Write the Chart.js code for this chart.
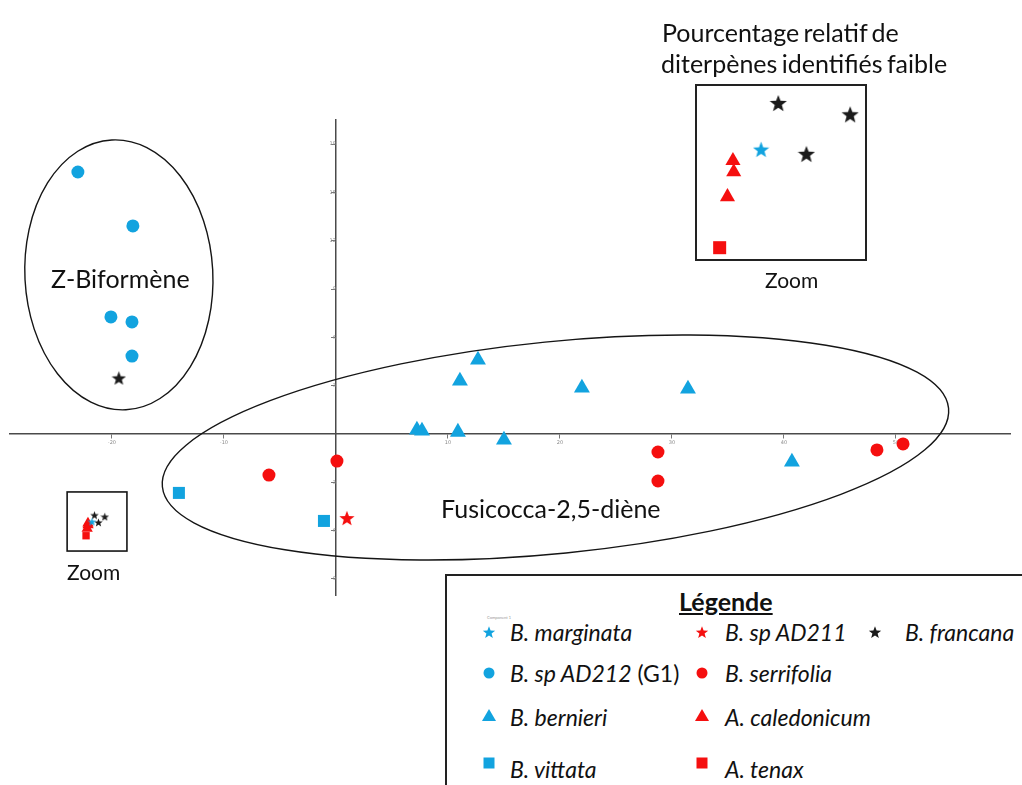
<!DOCTYPE html>
<html>
<head>
<meta charset="utf-8">
<script src="https://cdn.jsdelivr.net/npm/chart.js@4.4.1/dist/chart.umd.min.js"></script>
<style>
body { margin: 0; background: #fff; font-family: Lato, 'Open Sans', sans-serif; }
#wrap { position: relative; width: 1022px; height: 785px; overflow: hidden; }
#main { position: absolute; left: 0; top: 0; }
.lbl { position: absolute; color: #111; white-space: nowrap; line-height: 1; transform: translateY(-50%); }
#insetBox { position: absolute; left: 695px; top: 84px; width: 168px; height: 173px; border: 2px solid #222; background: #fff; }
#inset { position: absolute; left: 0; top: 0; }
#legend { position: absolute; left: 445px; top: 574px; width: 620px; height: 260px; border: 2px solid #222; background: #fff; }
#legend .title { position: absolute; left: 232px; top: 10px; font-weight: bold; font-size: 25px; text-decoration: underline; color: #111; }
#legend .item { position: absolute; font-size: 23px; font-style: italic; color: #111; white-space: nowrap; transform: translateY(-50%); }
#legend .item span { font-style: normal; }
#legend canvas { position: absolute; }
</style>
</head>
<body>
<div id="wrap">
  <canvas id="main" width="1022" height="785"></canvas>

  <div class="lbl" style="left:662px; top:32px; font-size:25px; word-spacing:-2px;">Pourcentage relatif de</div>
  <div class="lbl" style="left:661px; top:63px; font-size:25px; word-spacing:-2px;">diterpènes identifiés faible</div>
  <div id="insetBox"><canvas id="inset" width="168" height="173"></canvas></div>
  <div class="lbl" style="left:765px; top:279px; font-size:21px;">Zoom</div>
  <div class="lbl" style="left:51px; top:278px; font-size:25px;">Z-Biformène</div>
  <div class="lbl" style="left:441px; top:508px; font-size:25px;">Fusicocca-2,5-diène</div>
  <div class="lbl" style="left:67px; top:571px; font-size:21px;">Zoom</div>

  <div id="legend">
    <div class="title">Légende</div>
    <div style="position:absolute; left:40px; top:39px; font-size:4px; color:#999;">Component 1</div>
  </div>
</div>

<script>
// --- data (Component 1 / Component 2 scores) ---
const species = ['B. marginata', 'B. sp AD212 (G1)', 'B. bernieri', 'B. vittata',
                 'B. sp AD211', 'B. serrifolia', 'A. caledonicum', 'A. tenax', 'B. francana'];

const marginataX = [-21.78];
const marginataY = [-5.45];
const ad212X = [-23.04, -18.13, -20.09, -18.21, -18.21];
const ad212Y = [16.27, 12.92, 7.27, 6.96, 4.84];
const bernieriX = [12.68, 11.07, 7.23, 7.68, 10.89, 15.0, 21.96, 31.43, 40.71];
const bernieriY = [4.60, 3.29, 0.25, 0.19, 0.12, -0.37, 2.86, 2.80, -1.74];
const vittataX = [-14.02, -1.07];
const vittataY = [-3.66, -5.40];
const ad211X = [0.98];
const ad211Y = [-5.22];
const serrifoliaX = [-5.98, 0.09, 28.75, 28.75, 48.3, 50.63];
const serrifoliaY = [-2.55, -1.68, -1.12, -2.92, -0.99, -0.62];
const caledonicumX = [-22.14, -22.13, -22.21];
const caledonicumY = [-5.55, -5.65, -5.87];
const tenaxX = [-22.31];
const tenaxY = [-6.32];
const francanaX = [-19.38, -21.56, -20.64, -21.20];
const francanaY = [3.48, -5.04, -5.14, -5.49];

const xTickValues = [-20, -10, 10, 20, 30, 40, 50];
const yTickValues = [-9, -6, -3, 3, 6, 9, 12, 15, 18];

const BLUE = '#12A3DF';
const RED = '#F50F0F';
const BLACK = '#1b1b1b';

// annotation shapes (data units)
const ellipses = [
    { x: -19.38, y: 9.88, a: 8.39, b: 8.39, rot: -3 },
    { x: 19.6, y: -0.84, a: 35.27, b: 6.58, rot: -5.7 }
];
const zoomBox = { x1: -24.0, x2: -18.66, y1: -3.6, y2: -7.27 };
const insetRange = { xmin: -22.6, xmax: -20.45, ymin: -6.42, ymax: -4.89 };

const inZoomBox = p => p.x < -20 && p.y < -4;
const toPoints = (xs, ys) => xs.map((v, i) => ({ x: v, y: ys[i] }));

function drawShape(ctx, shape, color, cx, cy, size) {
    ctx.fillStyle = color;
    ctx.beginPath();
    if (shape === 'circle') {
        ctx.arc(cx, cy, size / 2, 0, Math.PI * 2);
    } else if (shape === 'rect') {
        ctx.rect(cx - size / 2, cy - size / 2, size, size);
    } else if (shape === 'triangle') {
        const r = size / Math.sqrt(3);
        ctx.moveTo(cx, cy - r);
        ctx.lineTo(cx + size / 2, cy + r / 2);
        ctx.lineTo(cx - size / 2, cy + r / 2);
        ctx.closePath();
    } else if (shape === 'star') {
        const R = size / 2, r = R * 0.42;
        for (let i = 0; i < 10; i++) {
            const rad = i % 2 ? r : R;
            const a = -Math.PI / 2 + i * Math.PI / 5;
            const px = cx + rad * Math.cos(a), py = cy + rad * Math.sin(a) + R * 0.1;
            if (i === 0) ctx.moveTo(px, py); else ctx.lineTo(px, py);
        }
        ctx.closePath();
    }
    ctx.fill();
}

function starCanvas(color, size) {
    const c = document.createElement('canvas');
    c.width = size; c.height = size;
    drawShape(c.getContext('2d'), 'star', color, size / 2, size / 2, size);
    return c;
}

// shape, colour, size on main chart, size inside the zoom cluster, size in inset
const looks = [
    { shape: 'star', color: BLUE, big: 15, small: 9, inset: 17 },
    { shape: 'circle', color: BLUE, big: 6.5 },
    { shape: 'triangle', color: BLUE, big: 9.2 },
    { shape: 'rect', color: BLUE, big: 8.5 },
    { shape: 'star', color: RED, big: 16, small: 9, inset: 17 },
    { shape: 'circle', color: RED, big: 6.5 },
    { shape: 'triangle', color: RED, big: 9.2, small: 6.5, inset: 8.7 },
    { shape: 'rect', color: RED, big: 8.5, small: 5.2, inset: 9.2 },
    { shape: 'star', color: BLACK, big: 15, small: 9, inset: 18 }
];
const seriesX = [marginataX, ad212X, bernieriX, vittataX, ad211X, serrifoliaX, caledonicumX, tenaxX, francanaX];
const seriesY = [marginataY, ad212Y, bernieriY, vittataY, ad211Y, serrifoliaY, caledonicumY, tenaxY, francanaY];

const mainSets = species.map((name, i) => {
    const lk = looks[i];
    let style = lk.shape;
    if (lk.shape === 'star') {
        const bigStar = starCanvas(lk.color, lk.big), smallStar = starCanvas(lk.color, lk.small);
        style = ctx => inZoomBox(ctx.raw || { x: 0, y: 0 }) ? smallStar : bigStar;
    }
    return {
        label: name,
        data: toPoints(seriesX[i], seriesY[i]),
        pointStyle: style,
        pointRadius: ctx => (ctx.raw && inZoomBox(ctx.raw) && lk.small) ? lk.small : lk.big,
        pointBackgroundColor: lk.color,
        pointBorderColor: lk.color,
        pointBorderWidth: 0,
        order: lk.shape === 'star' ? 0 : 1
    };
});

const annotate = {
    id: 'annotate',
    beforeDatasetsDraw(chart) {
        const { ctx, scales: { x, y } } = chart;
        ctx.save();
        ctx.strokeStyle = '#151515';
        ctx.lineWidth = 1.4;
        for (const e of ellipses) {
            const cx = x.getPixelForValue(e.x), cy = y.getPixelForValue(e.y);
            const rx = x.getPixelForValue(e.x + e.a) - cx;
            const ry = cy - y.getPixelForValue(e.y + e.b);
            ctx.beginPath();
            ctx.ellipse(cx, cy, rx, ry, e.rot * Math.PI / 180, 0, Math.PI * 2);
            ctx.stroke();
        }
        const bx = x.getPixelForValue(zoomBox.x1), by = y.getPixelForValue(zoomBox.y1);
        ctx.lineWidth = 1.6;
        ctx.strokeRect(bx, by, x.getPixelForValue(zoomBox.x2) - bx, y.getPixelForValue(zoomBox.y2) - by);
        ctx.restore();
    }
};

const axisCommon = {
    type: 'linear',
    grid: { drawOnChartArea: false, drawTicks: true, tickLength: 4, color: '#777', lineWidth: 1 },
    border: { color: '#4a4a4a', width: 1.5 },
    ticks: { font: { size: 5, family: 'DejaVu Sans' }, color: '#8a8a8a', padding: 2, maxRotation: 0, autoSkip: false }
};

new Chart(document.getElementById('main'), {
    type: 'scatter',
    data: { datasets: mainSets },
    options: {
        responsive: false,
        animation: false,
        events: [],
        layout: { autoPadding: false, padding: { left: 10, right: 12, top: 120, bottom: 190 } },
        plugins: { legend: { display: false }, tooltip: { enabled: false } },
        scales: {
            x: Object.assign({}, axisCommon, {
                position: { y: 0 }, min: -29.1, max: 60.18,
                afterBuildTicks: s => { s.ticks = xTickValues.map(v => ({ value: v })); }
            }),
            y: Object.assign({}, axisCommon, {
                position: { x: 0 }, min: -10.0, max: 19.5,
                afterBuildTicks: s => { s.ticks = yTickValues.map(v => ({ value: v })); }
            })
        }
    },
    plugins: [annotate]
});

// enlarged view of the cluster in the small box
const insetSets = species.map((name, i) => {
    const lk = looks[i];
    const pts = toPoints(seriesX[i], seriesY[i]).filter(inZoomBox);
    return {
        label: name,
        data: pts,
        pointStyle: lk.shape === 'star' ? starCanvas(lk.color, lk.inset) : lk.shape,
        pointRadius: lk.inset || 0,
        pointBackgroundColor: lk.color,
        pointBorderColor: lk.color,
        pointBorderWidth: 0
    };
}).filter(d => d.data.length);

new Chart(document.getElementById('inset'), {
    type: 'scatter',
    data: { datasets: insetSets },
    options: {
        responsive: false,
        animation: false,
        events: [],
        layout: { autoPadding: false, padding: 0 },
        plugins: { legend: { display: false }, tooltip: { enabled: false } },
        scales: {
            x: { display: false, min: insetRange.xmin, max: insetRange.xmax },
            y: { display: false, min: insetRange.ymin, max: insetRange.ymax }
        }
    }
});

// legend box
const legendCols = [42, 255, 428];
const legendTextCols = [63, 278, 458];
const legendRows = [56, 97, 141, 193];
const legendSlots = [[0, 0], [0, 1], [0, 2], [0, 3], [1, 0], [1, 1], [1, 2], [1, 3], [2, 0]];
const legendSizes = { star: 13, circle: 11, triangle: 14, rect: 11 };
const legend = document.getElementById('legend');
species.forEach((name, i) => {
    const [c, r] = legendSlots[i];
    const lk = looks[i];
    const s = legendSizes[lk.shape];
    const cv = document.createElement('canvas');
    cv.width = 20; cv.height = 20;
    cv.style.left = (legendCols[c] - 10) + 'px';
    cv.style.top = (legendRows[r] - 10 - (lk.shape === 'rect' ? 6 : 0)) + 'px';
    drawShape(cv.getContext('2d'), lk.shape, lk.color, 10, 10, s);
    legend.appendChild(cv);
    const t = document.createElement('div');
    t.className = 'item';
    t.style.left = legendTextCols[c] + 'px';
    t.style.top = legendRows[r] + 'px';
    const k = name.indexOf(' (');
    if (k > 0) {
        t.textContent = name.slice(0, k);
        const sp = document.createElement('span');
        sp.textContent = name.slice(k);
        t.appendChild(sp);
    } else {
        t.textContent = name;
    }
    legend.appendChild(t);
});
</script>
</body>
</html>
